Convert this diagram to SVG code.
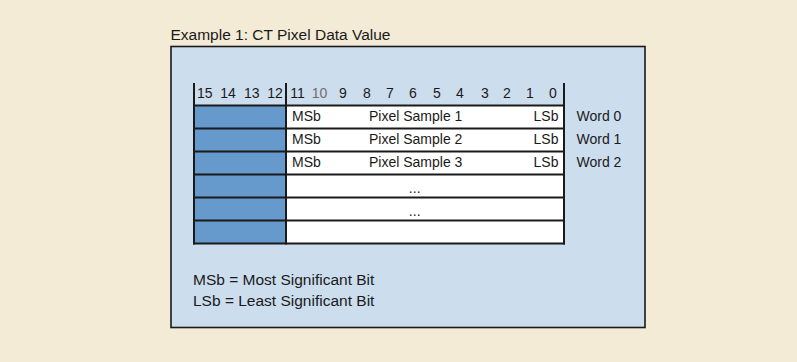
<svg xmlns="http://www.w3.org/2000/svg" width="797" height="362" viewBox="0 0 797 362">
<style>
text{font-family:"Liberation Sans",Arial,sans-serif;fill:#1a1a1a}
.t{font-size:15.5px}
.c{font-size:14px}
.h{font-size:14px;text-anchor:middle}
.e{text-anchor:end}
.m{text-anchor:middle}
.ln{stroke:#1a1a1a;stroke-width:2;fill:none}
</style>
<rect x="0" y="0" width="797" height="362" fill="#f3ebd6"/>
<text id="title" class="t" x="170.5" y="40">Example 1: CT Pixel Data Value</text>
<g id="panel">
<rect x="171" y="46.5" width="474" height="281" fill="#ccddee" stroke="#1a1a1a" stroke-width="1.6"/>
</g>
<g id="header">
<text class="h" x="204.7" y="97.5">15</text>
<text class="h" x="228" y="97.5">14</text>
<text class="h" x="251.7" y="97.5">13</text>
<text class="h" x="275" y="97.5">12</text>
<text class="h" x="297.5" y="97.5">11</text>
<text class="h" x="319.5" y="97.5" style="fill:#6f6f6f">10</text>
<text class="h" x="343" y="97.5">9</text>
<text class="h" x="367" y="97.5">8</text>
<text class="h" x="390" y="97.5">7</text>
<text class="h" x="413" y="97.5">6</text>
<text class="h" x="437" y="97.5">5</text>
<text class="h" x="460" y="97.5">4</text>
<text class="h" x="485" y="97.5">3</text>
<text class="h" x="507" y="97.5">2</text>
<text class="h" x="530" y="97.5">1</text>
<text class="h" x="553" y="97.5">0</text>
</g>
<g id="grid">
<rect x="194" y="105.5" width="92" height="138" fill="#6699cc"/>
<rect x="286" y="105.5" width="278" height="138" fill="#ffffff"/>
<path class="ln" d="M193 105.5H565M193 128.5H565M193 151.5H565M193 174.5H565M193 197.5H565M193 220.5H565M193 243.5H565"/>
<path class="ln" d="M194 83V244.5M286 83V244.5M564 83V244.5"/>
</g>
<g id="word0">
<text class="c" x="292" y="120.7">MSb</text>
<text class="c" x="369" y="120.7">Pixel Sample 1</text>
<text class="c e" x="558.5" y="120.7">LSb</text>
<text class="c" x="576.5" y="120.7">Word 0</text>
</g>
<g id="word1">
<text class="c" x="292" y="143.7">MSb</text>
<text class="c" x="369" y="143.7">Pixel Sample 2</text>
<text class="c e" x="558.5" y="143.7">LSb</text>
<text class="c" x="576.5" y="143.7">Word 1</text>
</g>
<g id="word2">
<text class="c" x="292" y="166.7">MSb</text>
<text class="c" x="369" y="166.7">Pixel Sample 3</text>
<text class="c e" x="558.5" y="166.7">LSb</text>
<text class="c" x="576.5" y="166.7">Word 2</text>
</g>
<g id="row3"><text class="c m" x="414.7" y="192.5">...</text></g>
<g id="row4"><text class="c m" x="414.7" y="215.5">...</text></g>
<g id="legend">
<text class="t" x="193" y="285">MSb = Most Significant Bit</text>
<text class="t" x="193" y="306">LSb = Least Significant Bit</text>
</g>
</svg>
